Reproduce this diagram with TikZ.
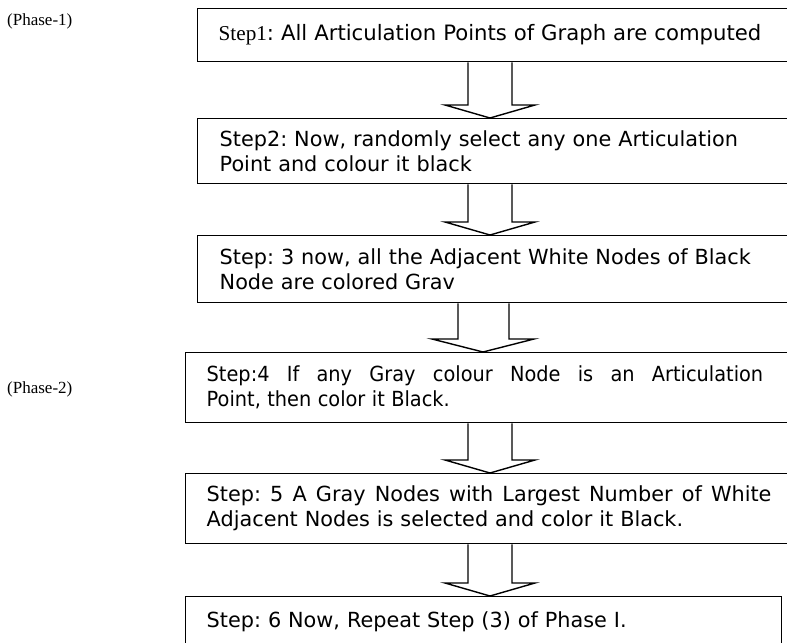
\documentclass[tikz,border=0pt]{standalone}
\usepackage{fontspec}
\setmainfont{DejaVu Sans}
\newfontfamily\serifface{Liberation Serif}
\usetikzlibrary{calc}
\frenchspacing

% hollow block arrow from the bottom of one box to the top of the next
% #1 from, #2 to, #3/#4 shaft left/right, #5/#6 head left/right, #7 tip x
\newcommand\fatarrow[7]{%
  \draw[arrowline] (#3,0 |- #1.south)
    -- ($(#3,0 |- #2.north)+(0,-13)$)
    -- ($(#5,0 |- #2.north)+(0,-13)$)
    -- (#7,0 |- #2.north)
    -- ($(#6,0 |- #2.north)+(0,-13)$)
    -- ($(#4,0 |- #2.north)+(0,-13)$)
    -- (#4,0 |- #1.south);}

% a justified line: words spread over the given width
\newcommand\gap{\hspace{0pt plus 1fil}\ }

\begin{document}
\begin{tikzpicture}[x=1bp,y=-1bp,
  stepbox/.style={draw, line width=1.4bp, anchor=north west, inner ysep=0,
    align=left, font=\fontsize{20.8bp}{25bp}\selectfont},
  phaselabel/.style={font=\serifface\fontsize{17bp}{20bp}\selectfont,
    inner sep=0, anchor=west},
  arrowline/.style={line width=1.4bp, line join=miter}]

\useasboundingbox (0,0) rectangle (787,643);
\clip (0,0) rectangle (787,643);

% phase labels
\node[phaselabel] (p1) at (7,21) {(Phase-1)};
\node[phaselabel] (p2) at (7,389) {(Phase-2)};

% Phase 1 steps
\node[stepbox, inner xsep=21bp, text width=561bp, minimum height=53bp] (s1) at (197,8)
  {\fontsize{21.2bp}{25bp}\selectfont{\serifface Step1}: All Articulation Points of Graph are computed};
\node[stepbox, inner xsep=22bp, text width=559bp, minimum height=65bp] (s2) at (197,118)
  {Step2: Now, randomly select any one Articulation\\Point and colour it black};
\node[stepbox, inner xsep=22bp, text width=559bp, minimum height=67bp] (s3) at (197,235)
  {Step: 3 now, all the Adjacent White Nodes of Black\\Node are colored Grav};

% Phase 2 steps
\node[stepbox, inner xsep=21bp, text width=573bp, minimum height=70bp] (s4) at (185,352)
  {\scalebox{0.93}[1]{\makebox[610bp][l]{Step:4\gap If\gap any\gap Gray\gap colour\gap Node\gap is\gap an\gap Articulation}}\\
   \scalebox{0.93}[1]{Point, then color it Black.}};
\node[stepbox, inner xsep=21bp, text width=573bp, minimum height=70bp] (s5) at (185,473)
  {\makebox[567bp][l]{Step:\gap 5\gap A\gap Gray\gap Nodes\gap with\gap Largest\gap Number\gap of\gap White}\\
   Adjacent Nodes is selected and color it Black.};
\node[stepbox, inner xsep=21bp, text width=554bp, minimum height=50bp] (s6) at (185,596)
  {Step: 6 Now, Repeat Step (3) of Phase I.};

% connectors
\fatarrow{s1}{s2}{468}{512}{445}{535}{490}
\fatarrow{s2}{s3}{468}{512}{445}{535}{490}
\fatarrow{s3}{s4}{458}{509}{432}{534}{483}
\fatarrow{s4}{s5}{468}{512}{445}{535}{490}
\fatarrow{s5}{s6}{468}{512}{445}{535}{490}
\end{tikzpicture}
\end{document}
